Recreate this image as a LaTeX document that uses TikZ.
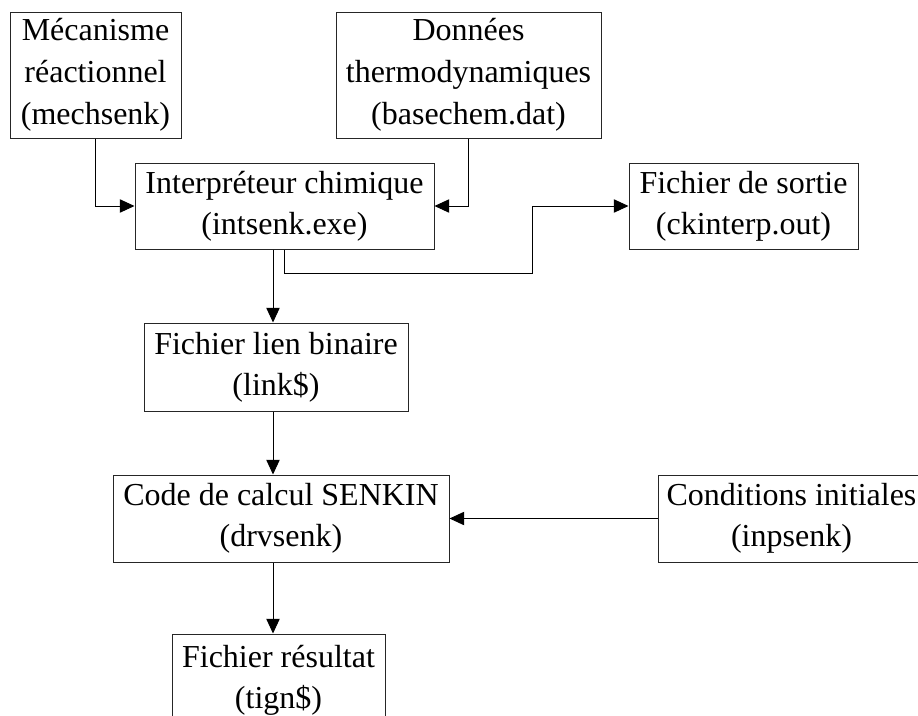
\documentclass[tikz,border=0pt]{standalone}
\usepackage{fontspec}
\setmainfont{Liberation Serif}
\usetikzlibrary{arrows.meta}
\begin{document}
\begin{tikzpicture}[x=0.75pt,y=-0.75pt,
  box/.style={draw=black!85, line width=0.75pt, align=center, inner sep=0pt,
    font=\fontsize{24}{28.5}\selectfont},
  conn/.style={draw=black, line width=0.75pt, -{Triangle[length=11pt,width=10pt]}}]
\useasboundingbox (0,0) rectangle (918,715);
\node[box, minimum width=128.25pt, minimum height=94.5pt] (mech) at (95.5,75) {Mécanisme\\[3pt]réactionnel\\[3pt](mechsenk)};
\node[box, minimum width=198.75pt, minimum height=94.5pt] (donnees) at (468.5,75) {Données\\[3pt]thermodynamiques\\[3pt](basechem.dat)};
\node[box, minimum width=224.25pt, minimum height=64.5pt] (interp) at (284.5,206) {Interpréteur chimique\\[2pt](intsenk.exe)};
\node[box, minimum width=171.75pt, minimum height=64.5pt] (sortie) at (743.5,206) {Fichier de sortie\\[2pt](ckinterp.out)};
\node[box, minimum width=198pt, minimum height=66pt] (link) at (276,367) {Fichier lien binaire\\[2pt](link\$)};
\node[box, minimum width=252pt, minimum height=65.25pt] (code) at (281,518.5) {Code de calcul SENKIN\\[2pt](drvsenk)};
\node[box, minimum width=200.25pt, minimum height=65.25pt] (cond) at (791.5,518.5) {Conditions initiales\\[2pt](inpsenk)};
\node[box, minimum width=159.75pt, minimum height=69pt] (res) at (278.5,680) {Fichier résultat\\[2pt](tign\$)};
\coordinate (sp) at (273,0);
\coordinate (bend) at (532,273);
\draw[conn] (mech.south) |- (interp.west);
\draw[conn] (donnees.south) |- (interp.east);
\draw[conn] (interp.south) |- (bend) |- (sortie.west);
\draw[conn] (interp.south -| sp) -- (link.north -| sp);
\draw[conn] (link.south -| sp) -- (code.north -| sp);
\draw[conn] (cond.west) -- (code.east);
\draw[conn] (code.south -| sp) -- (res.north -| sp);
\end{tikzpicture}
\end{document}
